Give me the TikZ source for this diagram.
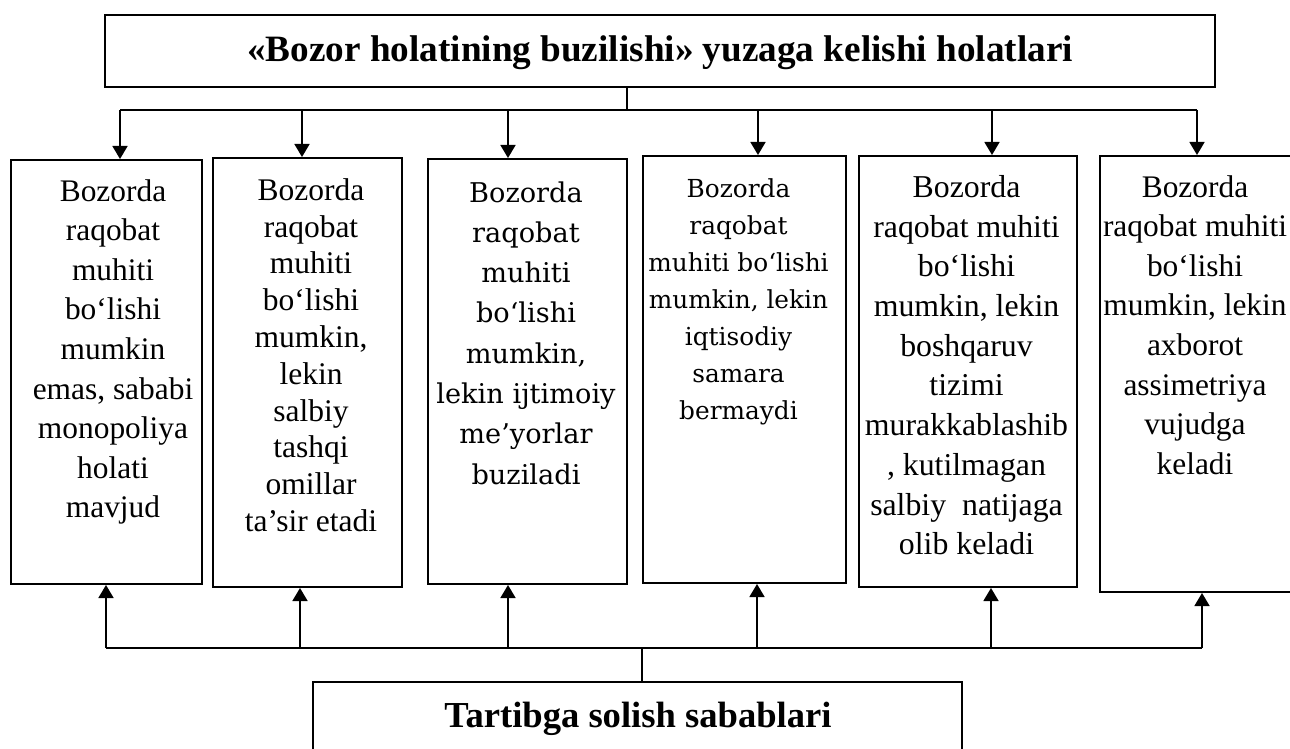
\documentclass[tikz,border=0pt]{standalone}
\usepackage{fontspec}
\setmainfont{Liberation Serif}
\newfontfamily\cambriafont{DejaVu Serif}
\usetikzlibrary{fit,arrows.meta}
\tikzset{>={Triangle[length=6.5pt,width=7.5pt]}}
\tikzset{
  frame/.style = {draw, line width=1pt, inner sep=0pt},
  boxtext/.style = {align=center, inner sep=0pt, anchor=north},
  headtext/.style = {font=\bfseries\fontsize{18.6}{22}\selectfont, inner sep=0pt, anchor=base},
  conn/.style = {line width=0.8pt}
}

\begin{document}
\begin{tikzpicture}[x=0.5pt,y=-0.5pt]
  \useasboundingbox (0,0) rectangle (1290,749);
  % headline
  \node[frame, fit={(105,15) (1215,87)}] (title) {};
  \node[headtext] (titletext) at (660,62)
    {«Bozor holatining buzilishi» yuzaga kelishi holatlari};
  % six boxes
  \node[frame, fit={(11,160) (202,584)}] (b1) {};
  \node[frame, fit={(213,158) (402,587)}] (b2) {};
  \node[frame, fit={(428,159) (627,584)}] (b3) {};
  \node[frame, fit={(643,156) (846,583)}] (b4) {};
  \node[frame, fit={(859,156) (1077,587)}] (b5) {};
  \node[frame, fit={(1100,156) (1310,592)}] (b6) {};
  % box texts
  \node[boxtext, font=\fontsize{15.7}{19.8}\selectfont] (txt1) at (113,179)
    {Bozorda\\raqobat\\muhiti\\bo‘lishi\\mumkin\\emas, sababi\\monopoliya\\holati\\mavjud};
  \node[boxtext, font=\fontsize{15.75}{18.4}\selectfont] (txt2) at (311,178)
    {Bozorda\\raqobat\\muhiti\\bo‘lishi\\mumkin,\\lekin\\salbiy\\tashqi\\omillar\\ta’sir etadi};
  \node[boxtext, font=\cambriafont\fontsize{13.6}{20.15}\selectfont] (txt3) at (526,181)
    {Bozorda\\raqobat\\muhiti\\bo‘lishi\\mumkin,\\lekin ijtimoiy\\me’yorlar\\buziladi};
  \node[boxtext, font=\cambriafont\fontsize{12.4}{18.5}\selectfont] (txt4) at (738.5,178)
    {Bozorda\\raqobat\\muhiti bo‘lishi\\mumkin, lekin\\iqtisodiy\\samara\\bermaydi};
  \node[boxtext, font=\fontsize{15.9}{19.85}\selectfont] (txt5) at (966.5,175)
    {Bozorda\\raqobat muhiti\\bo‘lishi\\mumkin, lekin\\boshqaruv\\tizimi\\murakkablashib\\, kutilmagan\\salbiy\ \ natijaga\\olib keladi};
  \node[boxtext, font=\fontsize{15.7}{19.8}\selectfont] (txt6) at (1195,175)
    {Bozorda\\raqobat muhiti\\bo‘lishi\\mumkin, lekin\\axborot\\assimetriya\\vujudga\\keladi};
  % bottom box
  \node[frame, fit={(313,682) (962,770)}] (reasons) {};
  \node[headtext, font=\bfseries\fontsize{18.3}{22}\selectfont] (reasonstext) at (638,727)
    {Tartibga solish sabablari};
  % upper connectors
  \coordinate (topstem) at (627,110);
  \draw[conn] (title.south -| topstem) -- (topstem);
  \foreach \x [count=\i] in {120,302,508,758,992,1197}
    \coordinate (a\i) at (\x,110);
  \draw[conn] (a1) -- (a6);
  \foreach \i in {1,...,6}
    \draw[conn,->] (a\i) -- (a\i |- b\i.north);
  % lower connectors
  \foreach \x [count=\i] in {106,300,508,757,991,1202}
    \coordinate (c\i) at (\x,648);
  \draw[conn] (c1) -- (c6);
  \foreach \i in {1,...,6}
    \draw[conn,->] (c\i) -- (c\i |- b\i.south);
  \coordinate (botstem) at (642,648);
  \draw[conn] (botstem) -- (botstem |- reasons.north);
\end{tikzpicture}
\end{document}
